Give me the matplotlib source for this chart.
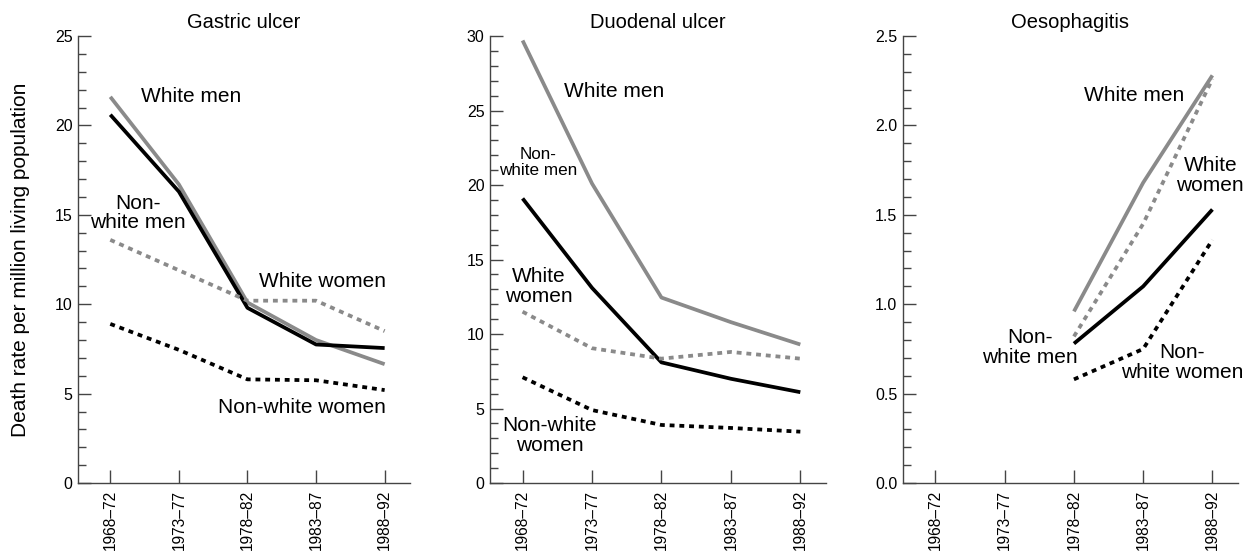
import numpy as np
import matplotlib.pyplot as plt

periods = ['1968–72', '1973–77', '1978–82', '1983–87', '1988–92']
nan = np.nan

# death rate per million living population
gastric_white_men = [21.6, 16.7, 10.1, 8.0, 6.65]
gastric_nonwhite_men = [20.6, 16.3, 9.8, 7.75, 7.55]
gastric_white_women = [13.6, 11.9, 10.2, 10.2, 8.5]
gastric_nonwhite_women = [8.9, 7.45, 5.8, 5.75, 5.2]

duodenal_white_men = [29.7, 20.1, 12.45, 10.8, 9.3]
duodenal_nonwhite_men = [19.1, 13.1, 8.1, 7.0, 6.1]
duodenal_white_women = [11.5, 9.05, 8.35, 8.8, 8.35]
duodenal_nonwhite_women = [7.1, 4.9, 3.9, 3.7, 3.45]

oes_white_men = [nan, nan, 0.96, 1.68, 2.28]
oes_nonwhite_men = [nan, nan, 0.78, 1.10, 1.53]
oes_white_women = [nan, nan, 0.82, 1.45, 2.26]
oes_nonwhite_women = [nan, nan, 0.58, 0.75, 1.36]

GREY = '#8a8a8a'
AXC = '#444444'
LW = 2.7

fig = plt.figure(figsize=(12.47, 5.54), dpi=100)
plt.rcParams['font.family'] = ['Liberation Sans', 'DejaVu Sans']

boxes = [(0.0626, 0.2662), (0.3929, 0.2695), (0.7241, 0.2687)]
bottom, height = 0.128, 0.807

panels = [
    ('Gastric ulcer', 25, 5, 1, '%d',
     [gastric_white_men, gastric_nonwhite_men, gastric_white_women, gastric_nonwhite_women]),
    ('Duodenal ulcer', 30, 5, 1, '%d',
     [duodenal_white_men, duodenal_nonwhite_men, duodenal_white_women, duodenal_nonwhite_women]),
    ('Oesophagitis', 2.5, 0.5, 0.1, '%.1f',
     [oes_white_men, oes_nonwhite_men, oes_white_women, oes_nonwhite_women]),
]

FS = 15
# label text, x (data), y (data), alignment, size
labels = [
    [('White men', 0.45, 21.6, 'left', FS),
     ('Non-\nwhite men', 0.4, 15.1, 'center', FS),
     ('White women', 2.17, 11.25, 'left', FS),
     ('Non-white women', 1.57, 4.2, 'left', FS)],
    [('White men', 0.59, 26.3, 'left', FS),
     ('Non-\nwhite men', 0.23, 21.5, 'center', 12.3),
     ('White\nwomen', 0.23, 13.2, 'center', FS),
     ('Non-white\nwomen', 0.39, 3.2, 'center', FS)],
    [('White men', 2.87, 2.17, 'center', FS),
     ('White\nwomen', 3.97, 1.72, 'center', FS),
     ('Non-\nwhite men', 1.37, 0.76, 'center', FS),
     ('Non-\nwhite women', 3.56, 0.675, 'center', FS)],
]

x = np.arange(len(periods))
for i, (title, ymax, major, minor, fmt, series) in enumerate(panels):
    left, width = boxes[i]
    ax = fig.add_axes([left, bottom, width, height])
    wm, nwm, ww, nww = series
    ax.plot(x, wm, color=GREY, lw=LW, solid_capstyle='butt')
    ax.plot(x, nwm, color='black', lw=LW, solid_capstyle='butt')
    ax.plot(x, ww, color=GREY, lw=LW, dashes=(1.3, 1.3), dash_capstyle='butt')
    ax.plot(x, nww, color='black', lw=LW, dashes=(1.3, 1.3), dash_capstyle='butt')

    for txt, tx, ty, ha, fs in labels[i]:
        ax.text(tx, ty, txt, ha=ha, va='center', fontsize=fs,
                multialignment='center', linespacing=1.05)

    ax.set_xlim(-0.47, 4.37)
    ax.set_ylim(0, ymax)
    ax.set_xticks(x)
    ax.set_xticklabels(periods, rotation=90, fontsize=11.2)
    ax.set_yticks(np.arange(0, ymax + major / 2, major))
    ax.yaxis.set_major_formatter(plt.FormatStrFormatter(fmt))
    ax.set_yticks(np.arange(0, ymax + minor / 2, minor), minor=True)
    ax.tick_params(axis='y', which='major', direction='in', length=9.5, width=1,
                   color=AXC, labelsize=11.5, pad=4)
    ax.tick_params(axis='y', which='minor', direction='in', length=5.5, width=1, color=AXC)
    ax.tick_params(axis='x', direction='in', length=9.5, width=1, color=AXC, pad=5)
    for s in ['top', 'right']:
        ax.spines[s].set_visible(False)
    for s in ['left', 'bottom']:
        ax.spines[s].set_linewidth(1)
        ax.spines[s].set_color(AXC)
    ax.set_title(title, fontsize=14.5, pad=6)
    if i == 0:
        ax.set_ylabel('Death rate per million living population', fontsize=15, labelpad=18)

fig.savefig('out.png', dpi=100)
